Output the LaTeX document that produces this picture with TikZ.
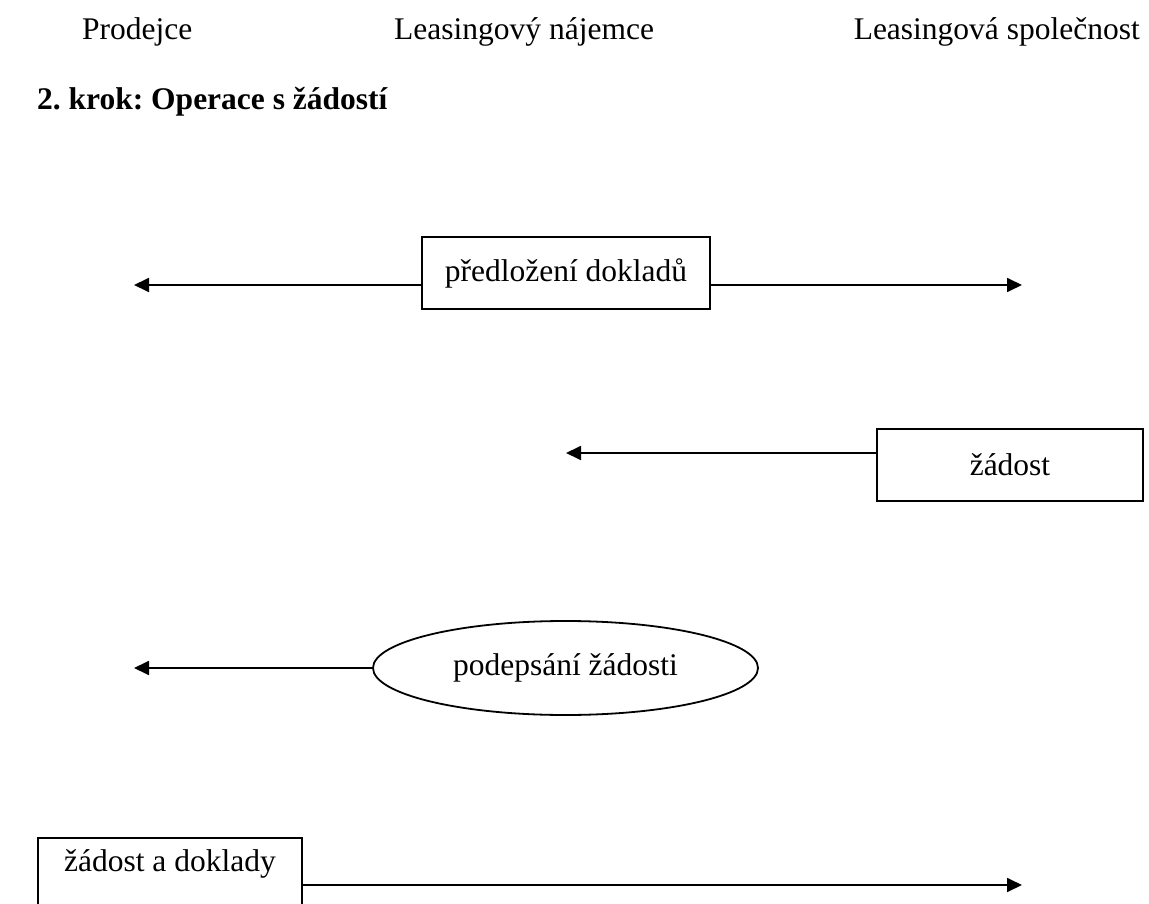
\documentclass[tikz,border=0pt]{standalone}
\usepackage{fontspec}
\setmainfont{Liberation Serif}
\usetikzlibrary{arrows.meta,shapes.geometric}
\begin{document}
\frenchspacing
\begin{tikzpicture}[x=1pt,y=-1pt,
  lbl/.style={font=\fontsize{31.5}{37}\selectfont, inner sep=0pt},
  boxn/.style={draw, line width=1.8pt, font=\fontsize{31.5}{37}\selectfont},
  conn/.style={line width=1.8pt, -{Triangle[length=15pt,width=14pt]}},
]
\clip (0,0) rectangle (1149,904);
\node[lbl, anchor=base west] (h1) at (82,40) {Prodejce};
\node[lbl, anchor=base west] (h2) at (394,40) {Leasingový nájemce};
\node[lbl, anchor=base east] (h3) at (1140,40) {Leasingová společnost};
\node[lbl, anchor=base west, font=\fontsize{31.5}{37}\selectfont\bfseries] (step) at (37,110) {2. krok: Operace s žádostí};

\node[boxn, minimum width=288, minimum height=72] (b1) at (566,273) {předložení dokladů};
\coordinate (l1) at (134,285);
\coordinate (r1) at (1022,285);
\draw[conn] (b1.west |- l1) -- (l1);
\draw[conn] (b1.east |- r1) -- (r1);

\node[boxn, minimum width=266, minimum height=72] (b2) at (1010,465) {žádost};
\coordinate (l2) at (566,453);
\draw[conn] (b2.west |- l2) -- (l2);

\node[boxn, ellipse, minimum width=385, minimum height=94, inner sep=0pt] (e3) at (565.5,668) {podepsání žádosti};
\coordinate (l3) at (134,668);
\draw[conn] (e3.west) -- (l3);

\node[boxn, anchor=north west, minimum width=264, text depth=70pt, inner sep=12pt] (b4) at (37,837) {žádost a doklady};
\coordinate (r4) at (1022,885);
\draw[conn] (b4.east |- r4) -- (r4);
\end{tikzpicture}
\end{document}
